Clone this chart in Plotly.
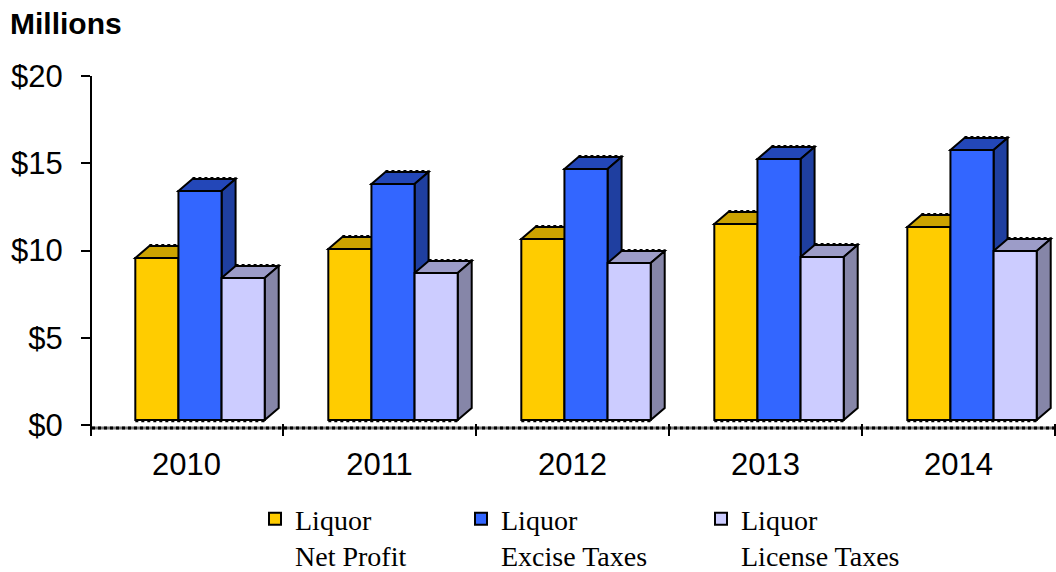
import plotly.graph_objects as go

years = ["2010", "2011", "2012", "2013", "2014"]
net_profit = [9.57, 10.09, 10.66, 11.52, 11.35]
excise_taxes = [13.41, 13.81, 14.67, 15.24, 15.76]
license_taxes = [8.42, 8.71, 9.28, 9.63, 9.97]
series_names = ["Liquor<br>Net Profit", "Liquor<br>Excise Taxes", "Liquor<br>License Taxes"]

front_colors = ["#FFCC00", "#3366FF", "#CCCCFF"]
top_colors = ["#CCA300", "#2347B8", "#9C9CC8"]
side_colors = ["#B89300", "#1F3FA0", "#8686A8"]
legend_ids = ["legend", "legend2", "legend3"]
legend_left_px = [255, 461, 701]

BASE = 0.29
GROUP_OFFSET = 0.57
BAR_W = 0.2235
DX = 14 / 193
DY = 12 / 17.45

fig = go.Figure()
series = [net_profit, excise_taxes, license_taxes]
xs = [i + GROUP_OFFSET for i in range(len(years))]
for s, vals in enumerate(series):
    fig.add_trace(go.Bar(
        x=xs, y=[v - BASE for v in vals], base=BASE, name=series_names[s],
        legend=legend_ids[s], showlegend=True,
        marker=dict(color=front_colors[s], line=dict(color="black", width=2)),
        hoverinfo="skip",
    ))

shapes = []
edge = dict(color="black", width=2)
for i, cx in enumerate(xs):
    for s, vals in enumerate(series):
        left = cx + (s - 1.5) * BAR_W
        right = left + BAR_W
        v = vals[i]
        top = f"M{left},{v} L{left+DX},{v+DY} L{right+DX},{v+DY} L{right},{v} Z"
        shapes.append(dict(type="path", path=top, xref="x", yref="y", layer="below",
                           fillcolor=top_colors[s], line=edge))
        side = f"M{right},{BASE} L{right+DX},{BASE+DY} L{right+DX},{v+DY} L{right},{v} Z"
        shapes.append(dict(type="path", path=side, xref="x", yref="y", layer="below",
                           fillcolor=side_colors[s], line=edge))
        shapes.append(dict(type="line", xref="x", yref="y", layer="below",
                           x0=left + DX, x1=right + DX, y0=v + DY + 0.06, y1=v + DY + 0.06,
                           line=dict(color="black", width=2, dash="dot")))
    shapes.append(dict(type="line", xref="x", yref="y", layer="below",
                       x0=cx - 1.5 * BAR_W, x1=cx + 1.5 * BAR_W, y0=BASE - 0.08, y1=BASE - 0.08,
                       line=dict(color="black", width=2, dash="dot")))

X_MIN = 2 / 193
shapes.append(dict(type="line", xref="x", yref="y", x0=X_MIN, x1=5, y0=-0.17, y1=-0.17, layer="below",
                   line=dict(color="#777777", width=3)))
shapes.append(dict(type="line", xref="x", yref="y", x0=X_MIN, x1=5, y0=-0.17, y1=-0.17, layer="below",
                   line=dict(color="black", width=3, dash="dot")))

legend_style = dict(orientation="h", xref="container", yref="container", xanchor="left", yanchor="top",
                    y=1 - 494 / 572, valign="top", itemwidth=30, bgcolor="rgba(0,0,0,0)",
                    font=dict(family="Liberation Serif", size=28, color="black"))

fig.update_layout(
    width=1056, height=572,
    margin=dict(l=92, r=1, t=76, b=136),
    paper_bgcolor="white", plot_bgcolor="white",
    barmode="group", bargap=1 - 3 * BAR_W,
    shapes=shapes,
    font=dict(family="Liberation Sans", color="black"),
    title=dict(text="<b>Millions</b>", x=10 / 1056, xanchor="left", y=1 - 23 / 572, yanchor="middle",
               font=dict(size=30, family="Liberation Sans", color="black")),
    legend=dict(x=legend_left_px[0] / 1056, **legend_style),
    legend2=dict(x=legend_left_px[1] / 1056, **legend_style),
    legend3=dict(x=legend_left_px[2] / 1056, **legend_style),
    xaxis=dict(
        range=[X_MIN, 5], tickmode="array", tickvals=[i + 0.5 for i in range(5)], ticktext=years,
        ticks="outside", ticklen=1, tickcolor="white", showline=False, showgrid=False, zeroline=False,
        tickfont=dict(size=31, family="Liberation Sans", color="black"),
        minor=dict(tickmode="array", tickvals=list(range(1, 6)), ticks="inside", ticklen=12,
                   tickwidth=2, tickcolor="black", showgrid=False),
    ),
    yaxis=dict(
        range=[-0.63, 20], tickmode="array", tickvals=[0, 5, 10, 15, 20],
        ticktext=["$0", "$5", "$10", "$15", "$20"],
        ticks="outside", ticklen=9, tickwidth=2, tickcolor="black",
        showline=True, linewidth=2, linecolor="black", showgrid=False, zeroline=False,
        ticklabelstandoff=12,
        tickfont=dict(size=31, family="Liberation Sans", color="black"),
    ),
)
fig.write_html("out.html", post_script="document.body.style.margin='0';",
               config={"displayModeBar": False})
